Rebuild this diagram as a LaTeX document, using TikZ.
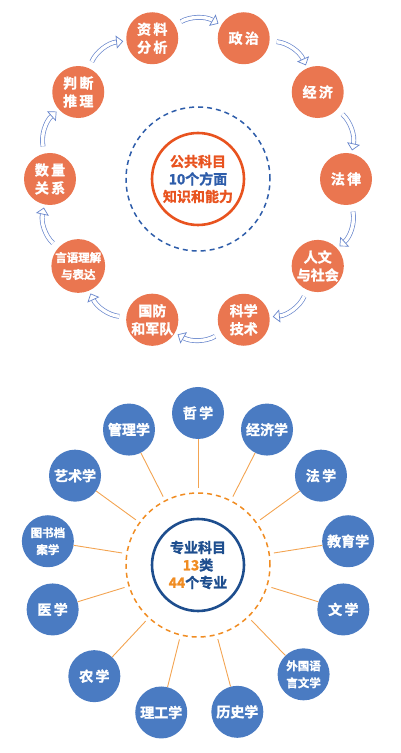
\documentclass[tikz,border=0pt]{standalone}
\usepackage{fontspec}
\setmainfont{Noto Sans CJK SC}[BoldFont={Noto Sans CJK SC Bold},BoldFeatures={FakeBold=1.6}]
\usepackage{xcolor}
\definecolor{coral}{RGB}{234,118,80}
\definecolor{redorange}{RGB}{232,83,31}
\definecolor{ringblue}{RGB}{46,93,170}
\definecolor{arrowblue}{RGB}{104,134,204}
\definecolor{majorblue}{RGB}{74,123,194}
\definecolor{navy}{RGB}{30,78,142}
\definecolor{amber}{RGB}{240,140,34}
\definecolor{spokeorange}{RGB}{243,164,82}
\usepackage{tikz}
\usetikzlibrary{arrows.meta,positioning,calc}
\tikzset{
  >={Stealth[length=5pt]},
  public/.style={circle,fill=coral,text=white,minimum size=52pt,inner sep=0pt,font=\bfseries\fontsize{14}{18}\selectfont,align=center},
  major/.style={circle,fill=majorblue,text=white,minimum size=52pt,inner sep=0pt,font=\bfseries\fontsize{14}{18}\selectfont,align=center},
  small/.style={font=\bfseries\fontsize{11.5}{17}\selectfont},
  hub/.style={circle,line width=2.6pt,minimum size=92pt,inner sep=0pt,align=center,font=\bfseries\fontsize{14}{17.5}\selectfont},
  ring/.style={circle,dashed,line width=1.5pt,minimum size=144pt,dash pattern=on 5pt off 4pt},
  flow/.style={draw=arrowblue,double=white,double distance=3.4pt,line width=0.7pt,
    -{Triangle[length=7pt,width=13pt,open,fill=white]},shorten <=7pt,shorten >=3pt},
  spoke/.style={draw=spokeorange,line width=0.9pt,shorten <=4pt}
}

\begin{document}
\begin{tikzpicture}[x=1pt,y=1pt]
  \useasboundingbox (0,0) rectangle (400,753);

  % Public subjects
  \node[hub,draw=redorange] (pubhub) at (198,574) {%
    \textcolor{redorange}{公共科目}\\
    \textcolor{ringblue}{10个方面}\\
    \textcolor{redorange}{知识和能力}};
  \node[ring,draw=ringblue] (pubring) at (pubhub) {};

  \node[public] (zhengzhi) at ([shift={(72:148)}]pubhub) {政\,治};
  \node[public] (jingji) at ([shift={(36:148)}]pubhub) {经\,济};
  \node[public] (falv) at ([shift={(0:148)}]pubhub) {法\,律};
  \node[public] (renwen) at ([shift={(-36:148)}]pubhub) {人文\\与社会};
  \node[public] (keji) at ([shift={(-72:148)}]pubhub) {科学\\技术};
  \node[public] (guofang) at ([shift={(-108:148)}]pubhub) {国防\\和军队};
  \node[public,small] (yanyu) at ([shift={(-144:148)}]pubhub) {言语理解\\与表达};
  \node[public] (shuliang) at ([shift={(180:148)}]pubhub) {数\,量\\关\,系};
  \node[public] (panduan) at ([shift={(144:148)}]pubhub) {判\,断\\推\,理};
  \node[public] (ziliao) at ([shift={(108:148)}]pubhub) {资\,料\\分\,析};

  % Clockwise arrows
  \draw[flow] (ziliao) to[bend left=30] (zhengzhi);
  \draw[flow] (zhengzhi) to[bend left=30] (jingji);
  \draw[flow] (jingji) to[bend left=30] (falv);
  \draw[flow] (falv) to[bend left=30] (renwen);
  \draw[flow] (renwen) to[bend left=30] (keji);
  \draw[flow] (keji) to[bend left=30] (guofang);
  \draw[flow] (guofang) to[bend left=30] (yanyu);
  \draw[flow] (yanyu) to[bend left=30] (shuliang);
  \draw[flow] (shuliang) to[bend left=30] (panduan);
  \draw[flow] (panduan) to[bend left=30] (ziliao);

  % Professional subjects
  \node[hub,draw=navy,text=navy] (prohub) at (198,188) {%
    专业科目\\
    \textcolor{amber}{13}类\\
    \textcolor{amber}{44}个专业};
  \node[ring,draw=amber] (proring) at (prohub) {};

  \node[major] (zhexue) at ([shift={(90:152)}]prohub) {哲\,学};
  \node[major] (jingjixue) at ([shift={(63:152)}]prohub) {经济学};
  \node[major] (faxue) at ([shift={(36:152)}]prohub) {法\,学};
  \node[major] (jiaoyu) at ([shift={(9:152)}]prohub) {教育学};
  \node[major] (wenxue) at ([shift={(-17:152)}]prohub) {文\,学};
  \node[major,small] (waiguo) at ([shift={(-46:152)}]prohub) {外国语\\言文学};
  \node[major] (lishi) at ([shift={(-75:152)}]prohub) {历史学};
  \node[major] (ligong) at ([shift={(-104:152)}]prohub) {理工学};
  \node[major] (nongxue) at ([shift={(-133:152)}]prohub) {农\,学};
  \node[major] (yixue) at ([shift={(-163:152)}]prohub) {医\,学};
  \node[major,small] (tushu) at ([shift={(171:152)}]prohub) {图书档\\案学};
  \node[major] (yishu) at ([shift={(144:152)}]prohub) {艺术学};
  \node[major] (guanli) at ([shift={(117:152)}]prohub) {管理学};

  % Spokes
  \foreach \m in {zhexue,jingjixue,faxue,jiaoyu,wenxue,waiguo,lishi,ligong,nongxue,yixue,tushu,yishu,guanli}
    \draw[spoke] (proring) -- (\m);
\end{tikzpicture}
\end{document}
